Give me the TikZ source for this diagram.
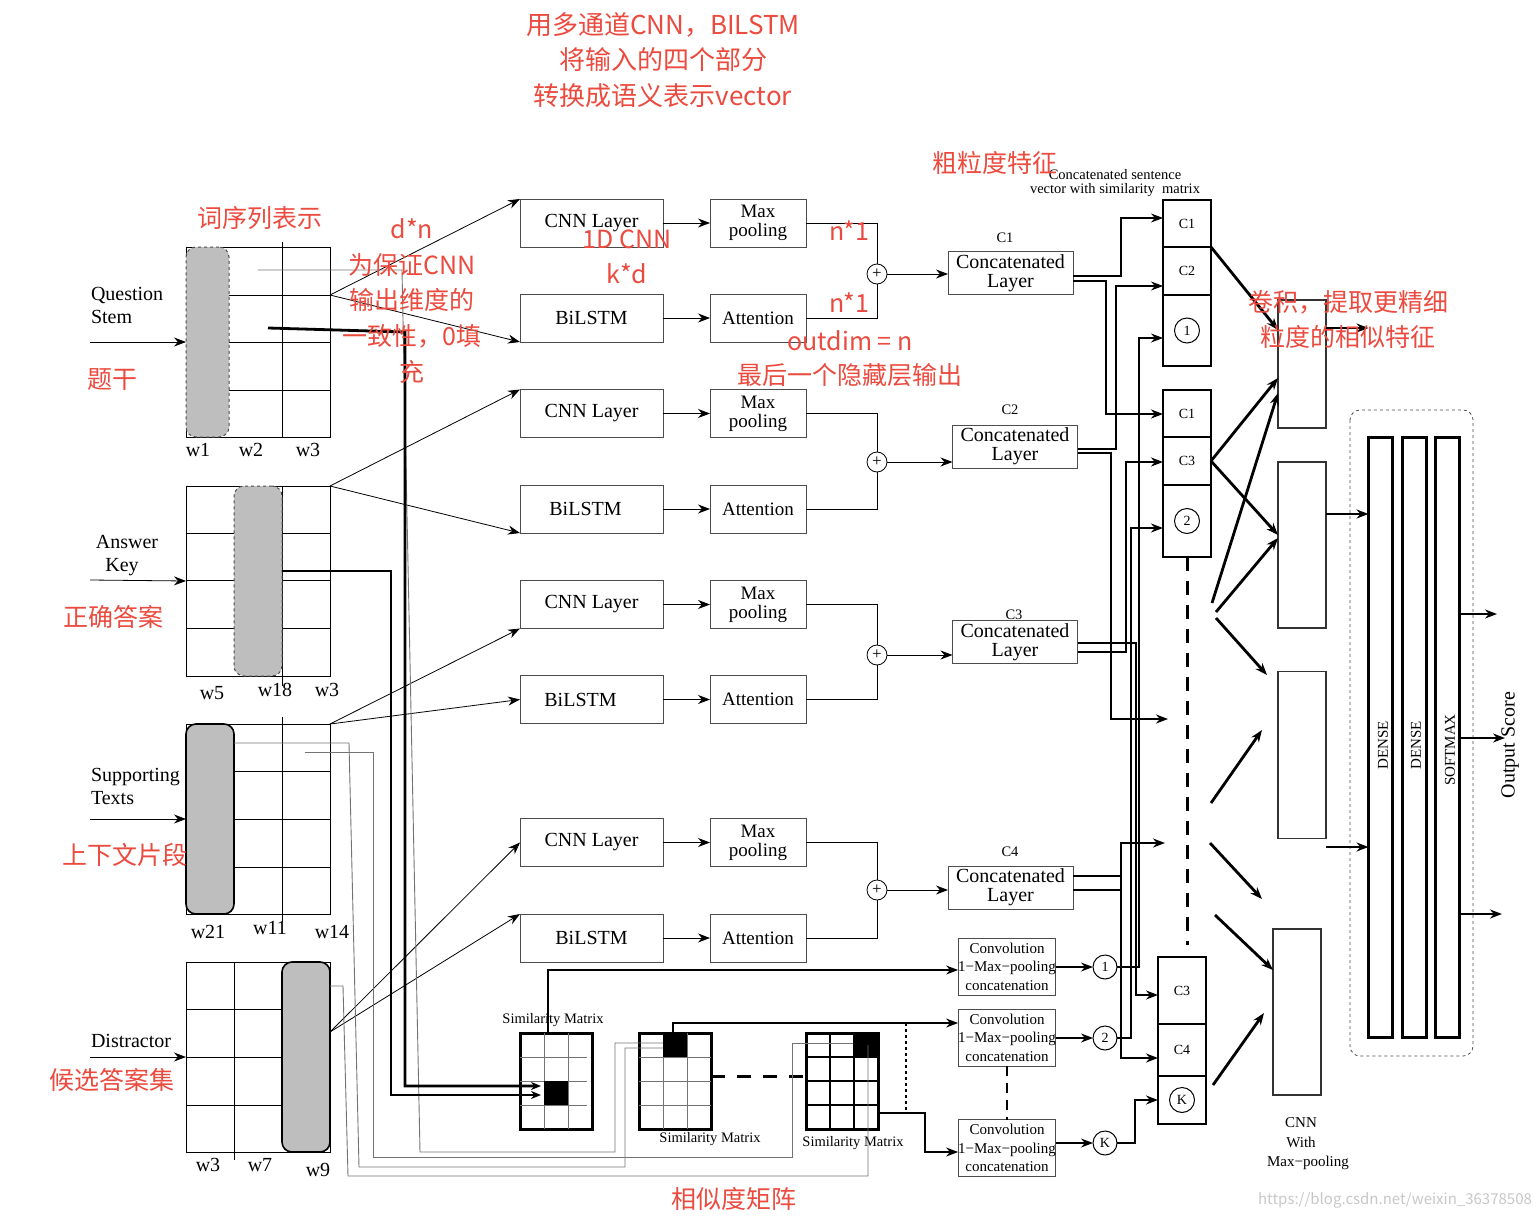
\documentclass[tikz,border=0pt]{standalone}
\usepackage{fontspec}
\setmainfont{Liberation Serif}
\newfontfamily\cjk{Noto Sans CJK SC}
\usetikzlibrary{arrows.meta}
\definecolor{redc}{HTML}{EB4A3E}
\definecolor{pillg}{HTML}{BEBEBE}
\newcommand{\myfs}[1]{\fontsize{#1}{#1}\selectfont}
\begin{document}
\begin{tikzpicture}[x=1pt,y=-1pt,
 every node/.style={inner sep=0pt, outer sep=0pt},
 arr/.style={-{Stealth[length=12pt,width=9pt]}},
 thn/.style={line width=0.8pt},
 thk/.style={line width=2.8pt},
 mid/.style={line width=1.3pt},
 gw/.style={line width=0.9pt, draw=black!55},
 igrid/.style={draw, line width=0.9pt, minimum width=144pt, minimum height=190pt},
 pill/.style={fill=pillg, rounded corners=10pt, minimum width=48pt, minimum height=190pt},
 mbox/.style={draw=black!70, line width=1pt, minimum width=143pt, minimum height=48pt, font=\myfs{20}},
 pbox/.style={draw=black!70, line width=1pt, minimum width=96pt, minimum height=48pt, align=center, font=\fontsize{19}{19}\selectfont},
 cbox/.style={draw=black!70, line width=1pt, minimum width=125pt, minimum height=43pt, align=center, font=\fontsize{20}{19}\selectfont},
 opl/.style={circle, draw, line width=0.8pt, minimum size=20pt, font=\myfs{17}},
 scell/.style={draw, line width=1.4pt, minimum width=48pt, font=\myfs{14}},
 ccirc/.style={circle, draw, line width=1pt, minimum size=25pt, font=\myfs{14}},
 cnnb/.style={draw=black!80, line width=1.3pt, minimum width=48pt},
 cvbox/.style={draw=black!70, line width=1pt, minimum width=97pt, minimum height=57pt, align=center, font=\fontsize{15}{18.5}\selectfont},
 smx/.style={draw, line width=3pt, minimum width=72pt, minimum height=96pt},
 dbar/.style={draw, line width=3pt, minimum width=24pt, minimum height=600pt},
 lab/.style={font=\fontsize{20}{23}\selectfont, align=left},
 wl/.style={font=\myfs{20}},
 sl/.style={font=\myfs{14.5}},
 rtxt/.style={text=redc, font=\cjk\myfs{25}},
]
\useasboundingbox (0,0) rectangle (1540,1220);

% ---------------- input grids ----------------
% Question stem
\node[igrid] (qg) at (258,342) {};
\draw[thn] (282,242) -- (282,437);
\foreach \y in {295,342,390} \draw[thn] (229,\y) -- (330,\y);
\node[pill, draw=black!70, dashed, line width=1pt, minimum width=43pt] (qp) at (207.5,342) {};
\node[wl] (qw1) at (198,450) {w1};
\node[wl] (qw2) at (251,450) {w2};
\node[wl] (qw3) at (308,450) {w3};
\node[lab, anchor=west] (qlab) at (91,305) {Question\\Stem};
\coordinate (qin) at (90,342);
\draw[thn,arr] (qin) -- (qg.west);

% Answer key
\node[igrid] (ag) at (258,581) {};
\foreach \y in {533,580,628} \draw[thn] (186,\y) -- (330,\y);
\draw[thn] (282,486) -- (282,686);
\node[pill, draw=black!70, dashed, line width=1pt] (ap) at (258,581) {};
\node[wl] (aw1) at (212,693) {w5};
\node[wl] (aw2) at (275,690) {w18};
\node[wl] (aw3) at (327,690) {w3};
\node[lab, align=center] (alab) at (127,556) {Answer\\\hspace*{-10pt}Key};
\coordinate (ain) at (90,580);
\draw[thn,arr] (ain) -- (ag.west);

% Supporting texts
\node[igrid] (sg) at (258,819) {};
\foreach \y in {771,819,867} \draw[thn] (234,\y) -- (330,\y);
\draw[thn] (282,717) -- (282,922);
\node[pill, draw=black, line width=1.6pt] (sp) at (210,819) {};
\node[wl] (sw1) at (208,932) {w21};
\node[wl] (sw2) at (270,928) {w11};
\node[wl] (sw3) at (332,932) {w14};
\node[lab, anchor=west] (slab) at (91,786) {Supporting\\Texts};
\coordinate (sin) at (90,819);
\draw[thn,arr] (sin) -- (sg.west);

% Distractor
\node[igrid] (dg) at (258,1057) {};
\foreach \y in {1009,1057,1105} \draw[thn] (186,\y) -- (282,\y);
\draw[thn] (234,962) -- (234,1160);
\node[pill, draw=black, line width=1.6pt] (dp) at (306,1057) {};
\node[wl] (dw1) at (208,1165) {w3};
\node[wl] (dw2) at (260,1165) {w7};
\node[wl] (dw3) at (318,1170) {w9};
\node[lab, anchor=west] (dlab) at (91,1041) {Distractor};
\coordinate (din) at (90,1057);
\draw[thn,arr] (din) -- (dg.west);

% ---------------- module rows ----------------
\node[mbox] (cnn1) at (591.5,223) {CNN Layer};
\node[mbox] (bil1) at (591.5,318) {BiLSTM};
\node[pbox] (mp1) at (758,223) {Max\\pooling};
\node[pbox] (att1) at (758,318) {Attention};
\node[opl] (op1) at (877,274) {+};
\node[cbox] (cc1) at (1010.5,273) {Concatenated\\Layer};
\node[sl] (cl1) at (1005,238) {C1};

\node[mbox] (cnn2) at (591.5,413.5) {CNN Layer};
\node[mbox] (bil2) at (591.5,509) {\hspace*{-12pt}BiLSTM};
\node[pbox] (mp2) at (758,413.5) {Max\\pooling};
\node[pbox] (att2) at (758,509) {Attention};
\node[opl] (op2) at (877,462) {+};
\node[cbox] (cc2) at (1015,446.5) {Concatenated\\Layer};
\node[sl] (cl2) at (1010,410) {C2};

\node[mbox] (cnn3) at (591.5,604.5) {CNN Layer};
\node[mbox] (bil3) at (591.5,699.5) {\hspace*{-22pt}BiLSTM};
\node[pbox] (mp3) at (758,604.5) {Max\\pooling};
\node[pbox] (att3) at (758,699.5) {Attention};
\node[opl] (op3) at (877,655) {+};
\node[cbox] (cc3) at (1015,642) {Concatenated\\Layer};
\node[sl] (cl3) at (1014,615) {C3};

\node[mbox] (cnn4) at (591.5,842.5) {CNN Layer};
\node[mbox] (bil4) at (591.5,938) {BiLSTM};
\node[pbox] (mp4) at (758,842.5) {Max\\pooling};
\node[pbox] (att4) at (758,938) {Attention};
\node[opl] (op4) at (877,890) {+};
\node[cbox] (cc4) at (1010.5,887.5) {Concatenated\\Layer};
\node[sl] (cl4) at (1010,852) {C4};

\foreach \i in {1,2,3,4} {
  \draw[thn,arr] (cnn\i.east) -- (mp\i.west);
  \draw[thn,arr] (bil\i.east) -- (att\i.west);
  \draw[thn] (mp\i.east) -| (op\i.north);
  \draw[thn] (att\i.east) -| (op\i.south);
  \draw[thn,arr] (op\i.east) -- (op\i.east -| cc\i.west);
}

% grid -> modules
\coordinate (qo) at (330,295);
\coordinate (do) at (330,1032);
\draw[thn,arr] (qo) -- (cnn1.north west);
\draw[thn,arr] (qo) -- (bil1.south west);
\draw[thn,arr] (ag.north east) -- (cnn2.north west);
\draw[thn,arr] (ag.north east) -- (bil2.south west);
\draw[thn,arr] (sg.north east) -- (cnn3.south west);
\draw[thn,arr] (sg.north east) -- (bil3.west);
\draw[thn,arr] (do) -- (cnn4.west);
\draw[thn,arr] (do) -- (bil4.north west);

% ---------------- similarity matrices ----------------
\node[smx] (sm1) at (556,1081) {};
\foreach \x in {544,568} \draw[line width=0.8pt, black!55] (\x,1033) -- (\x,1129);
\foreach \y in {1057,1081,1105} \draw[line width=0.8pt, black!55] (520,\y) -- (587,\y);
\fill (544,1081) rectangle (568,1105);
\node[sl] (sml1) at (553,1020) {Similarity Matrix};

\node[smx] (sm2) at (675,1081) {};
\foreach \x in {663,687} \draw[line width=0.8pt, black!55] (\x,1033) -- (\x,1129);
\foreach \y in {1057,1081,1105} \draw[line width=0.8pt, black!55] (639,\y) -- (711,\y);
\fill (663,1033) rectangle (687,1057);
\node[sl] (sml2) at (710,1139) {Similarity Matrix};

\node[smx] (sm3) at (842,1081) {};
\foreach \x in {830,854} \draw[line width=2.5pt] (\x,1033) -- (\x,1129);
\foreach \y in {1057,1081,1105} \draw[line width=2.5pt] (806,\y) -- (878,\y);
\fill (854,1033) rectangle (878,1057);
\node[sl] (sml3) at (853,1143) {Similarity Matrix};
\draw[line width=3pt, dash pattern=on 14pt off 12pt] (sm2.east |- 0,1076) -- (sm3.west |- 0,1076);

% gray connectors into matrices
\draw[gw] (258,270) -- (402,270) -- (420,1152) -- (615,1152) -- (615,1043) -- (663,1043);
\draw[gw] (234,743) -- (349,743) -- (359,1167) -- (625,1167) -- (625,1048) -- (663,1048);
\draw[gw] (305,752) -- (373,752) -- (373,1157) -- (792,1157) -- (792,1043) -- (853,1043);
\draw[gw] (dp.east |- 0,986) -- (343,986) -- (348,1176) -- (868,1176) -- (868,1045);

% thick word lines into matrix 1
\coordinate (qw) at (268,328);
\coordinate (m1a) at (541,1086);
\coordinate (m1b) at (541,1095);
\draw[thk,-{Stealth[length=10pt,width=8pt]}] (qw) -- (405,332) -- (405,1086) -- (m1a);
\draw[thk,-{Stealth[length=10pt,width=8pt]}] (ap.east |- 0,571) -- (391,571) -- (391,1095) -- (m1b);

% ---------------- convolution boxes ----------------
\node[cvbox] (cv1) at (1007,966.5) {Convolution\\1−Max−pooling\\concatenation};
\node[cvbox] (cv2) at (1007,1037.5) {Convolution\\1−Max−pooling\\concatenation};
\node[cvbox] (cv3) at (1007,1148) {Convolution\\1−Max−pooling\\concatenation};
\node[ccirc, minimum size=24pt] (c1) at (1105,967) {1};
\node[ccirc, minimum size=24pt] (c2) at (1105,1038) {2};
\node[ccirc, minimum size=24pt] (cK) at (1105,1143) {K};
\draw[mid,arr] ([xshift=-8pt]sm1.north) |- (cv1.west |- 0,970);
\draw[mid,arr] ([xshift=-2pt]sm2.north) |- (cv2.west |- 0,1023);
\draw[mid,arr] (sm3.east |- 0,1113) -| (925,1152) -- (cv3.west |- 0,1152);
\draw[mid, dashed] (906,1023) -- (906,1110);
\draw[mid, dash pattern=on 10pt off 7pt] (cv2.south) -- (cv3.north);
\draw[mid,arr] (cv1.east |- 0,967) -- (c1.west);
\draw[mid,arr] (cv2.east |- 0,1038) -- (c2.west);
\draw[mid,arr] (cv3.east |- 0,1143) -- (cK.west);

% ---------------- stacks ----------------
\node[font=\fontsize{14.5}{14}\selectfont, align=center] (hdr) at (1115,183) {Concatenated sentence\\vector with similarity\ \ matrix};
\node[scell, minimum height=47pt] (s1a) at (1187,223.5) {C1};
\node[scell, minimum height=48pt] (s1b) at (1187,271) {C2};
\node[scell, minimum height=71pt] (s1c) at (1187,330.5) {};
\node[ccirc] (n1) at (s1c) {1};
\node[scell, minimum height=47pt] (s2a) at (1187,413.5) {C1};
\node[scell, minimum height=48pt] (s2b) at (1187,461) {C3};
\node[scell, minimum height=72pt] (s2c) at (1187,521) {};
\node[ccirc] (n2) at (s2c) {2};
\draw[line width=3pt, dash pattern=on 14pt off 10pt] (s2c.south) -- (1187,945);
\node[scell, minimum height=67pt] (s3a) at (1182,990.5) {C3};
\node[scell, minimum height=52pt] (s3b) at (1182,1050) {C4};
\node[scell, minimum height=48pt] (s3c) at (1182,1100) {};
\node[ccirc] (nk) at (s3c) {K};

% wiring concat -> stacks
\coordinate (f1) at (1168,719);
\coordinate (f2) at (1165,843);
\draw[mid,arr] (cc1.east |- 0,276) -| (1121,218) -- (s1a.west |- 0,218);
\draw[thk,arr] (cc1.east |- 0,281) -| (1106,414) -- (s2a.west |- 0,414);
\draw[mid,arr] (cc2.east |- 0,449) -| (1116,286) -- (s1b.west |- 0,286);
\draw[thk,arr] (cc2.east |- 0,453) -| (1111,719) -- (f1);
\draw[mid,arr] (c1.east) -- (1139,967) -- (1139,338) -- (s1c.west |- 0,338);
\draw[thk,arr] (cc3.east |- 0,652) -| (1126,462) -- (s2b.west |- 0,462);
\draw[line width=2pt,arr] (cc3.east |- 0,643) -| (1136,995) -- (s3a.west |- 0,995);
\draw[thk,arr] (c2.east) -- (1131,1038) -- (1131,528) -- (s2c.west |- 0,528);
\draw[thk] (cc4.east |- 0,876) -- (1121,876);
\draw[thk] (cc4.east |- 0,890) -- (1121,890);
\draw[thk,arr] (1121,843) |- (s3b.west |- 0,1058);
\draw[thk,arr] (1119.6,843) -- (f2);
\draw[thk,arr] (cK.east) -- (1135,1143) -- (1135,1100) -- (s3c.west |- 0,1100);

% ---------------- CNN boxes ----------------
\node[cnnb, minimum height=128pt] (cb1) at (1302,364) {};
\node[cnnb, minimum height=166pt] (cb2) at (1302,545) {};
\node[cnnb, minimum height=167pt] (cb3) at (1302,755) {};
\node[cnnb, minimum height=166pt] (cb4) at (1297,1012) {};
\node[font=\fontsize{15}{19.5}\selectfont, align=center] (cbl) at (1301,1144) {CNN\\With\\\hspace*{14pt}Max−pooling};

\coordinate (x1) at (1212,603);
\coordinate (x2) at (1216,612);
\coordinate (x3) at (1216,618);
\coordinate (x4) at (1211,803);
\coordinate (x5) at (1210,843);
\coordinate (x6) at (1215,915);
\coordinate (x7) at (1213,1085);
\coordinate (e6) at (1267,675);
\coordinate (e7) at (1262,730);
\coordinate (e8) at (1262,899);
\coordinate (e10) at (1264,1013);
\draw[thk,arr] (s1a.south east) -- (cb1.west |- 0,330);
\draw[thk,arr] (s2b.east) -- (cb1.west |- 0,378);
\draw[thk,arr] (s2b.east) -- (cb2.west |- 0,535);
\draw[thk,arr] (x1) -- (cb1.west |- 0,393);
\draw[thk,arr] (x2) -- (cb2.west |- 0,538);
\draw[thk,arr] (x3) -- (e6);
\draw[thk,arr] (x4) -- (e7);
\draw[thk,arr] (x5) -- (e8);
\draw[thk,arr] (x6) -- (cb4.west |- 0,970);
\draw[thk,arr] (x7) -- (e10);

% ---------------- dense part ----------------
\draw[thn, dashed, rounded corners=10pt, black!70] (1350,410) rectangle (1473,1056);
\node[dbar] (d1) at (1380.5,737.5) {};
\node[dbar] (d2) at (1414,737.5) {};
\node[dbar] (sfm) at (1447.5,737.5) {};
\node[rotate=90, font=\myfs{15}] (d1l) at (1383,745) {DENSE};
\node[rotate=90, font=\myfs{15}] (d2l) at (1416,745) {DENSE};
\node[rotate=90, font=\myfs{15}] (sfl) at (1450,750) {SOFTMAX};
\draw[thk,arr] (cb1.east |- 0,328) -- (d1.west |- 0,328);
\draw[thk,arr] (cb2.east |- 0,514) -- (d1.west |- 0,514);
\draw[thk,arr] (cb3.east |- 0,847) -- (d1.west |- 0,847);
\coordinate (o1) at (1497,614);
\coordinate (o2) at (1505,738);
\coordinate (o3) at (1502,914);
\draw[thk,arr] (sfm.east |- 0,614) -- (o1);
\draw[thk,arr] (sfm.east |- 0,738) -- (o2);
\draw[thk,arr] (sfm.east |- 0,914) -- (o3);
\node[rotate=90, font=\myfs{20}] (outl) at (1510,745) {Output Score};

% ---------------- red annotations ----------------
\node[rtxt, font=\cjk\myfs{26}] (r1) at (663,25) {用多通道CNN，BILSTM};
\node[rtxt, font=\cjk\myfs{26}] (r2) at (663,60) {将输入的四个部分};
\node[rtxt, font=\cjk\myfs{26}] (r3) at (663,96) {转换成语义表示vector};
\node[rtxt] (r4) at (995,163) {粗粒度特征};
\node[rtxt] (r5) at (260,218) {词序列表示};
\node[rtxt] (r6) at (412,229) {d*n};
\node[rtxt] (r7) at (412,265) {为保证CNN};
\node[rtxt] (r8) at (412,300) {输出维度的};
\node[rtxt] (r9) at (412,336) {一致性，0填};
\node[rtxt] (r10) at (412,372) {充};
\node[rtxt] (r11) at (627,239) {1D CNN};
\node[rtxt] (r12) at (627,274) {k*d};
\node[rtxt] (r13) at (849,231) {n*1};
\node[rtxt] (r14) at (849,303) {n*1};
\node[rtxt] (r15) at (850,341) {outdim = n};
\node[rtxt] (r16) at (850,375) {最后一个隐藏层输出};
\node[rtxt] (r17) at (1348,302) {卷积，提取更精细};
\node[rtxt] (r18) at (1348,337) {粒度的相似特征};
\node[rtxt] (r19) at (112,380) {题干};
\node[rtxt] (r20) at (113,617) {正确答案};
\node[rtxt] (r21) at (125,855) {上下文片段};
\node[rtxt] (r22) at (112,1080) {候选答案集};
\node[rtxt] (r23) at (734,1199) {相似度矩阵};
\node[text=black!22, font=\cjk\myfs{15}] (wm) at (1395,1200) {https://blog.csdn.net/weixin\_36378508};
\end{tikzpicture}
\end{document}
